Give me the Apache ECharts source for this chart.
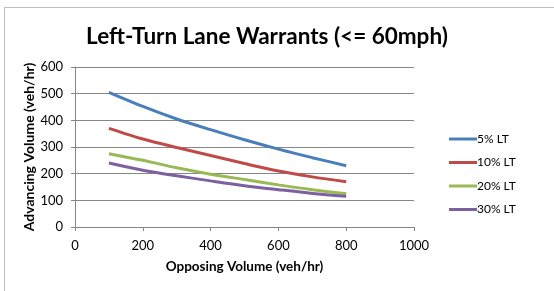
<!DOCTYPE html>
<html lang="en">
<head>
<meta charset="utf-8">
<title>Left-Turn Lane Warrants</title>
<script src="https://cdn.jsdelivr.net/npm/echarts@6/dist/echarts.min.js"></script>
<style>
html,body{margin:0;padding:0;background:#fff;}
#frame{position:absolute;left:4px;top:7px;width:560px;height:300px;border:1px solid #bfbfbf;box-sizing:border-box;}
#main{position:absolute;left:0;top:0;width:554px;height:291px;}
</style>
</head>
<body>
<div id="frame"></div>
<div id="main"></div>
<script>
var opposing = [100, 200, 300, 400, 500, 600, 700, 800];
var lt5 = [505, 452, 405, 365, 327, 292, 260, 230];
var lt10 = [370, 330, 298, 268, 238, 210, 188, 170];
var lt20 = [275, 250, 222, 198, 178, 158, 140, 125];
var lt30 = [240, 213, 192, 173, 155, 140, 126, 115];
var names = ['5% LT', '10% LT', '20% LT', '30% LT'];
var colors = ['#4a7ebb', '#be4b48', '#98b954', '#7d60a0'];

function pairs(ys){
  var out = [];
  for (var i = 0; i < opposing.length; i++) out.push([opposing[i], ys[i]]);
  return out;
}

var font = 'Lato, "Open Sans", sans-serif';
var chart = echarts.init(document.getElementById('main'));
chart.setOption({
  animation: false,
  title: {
    text: 'Left-Turn Lane Warrants (<= 60mph)',
    left: 262, top: 20, textAlign: 'center',
    textStyle: {fontFamily: font, fontSize: 22.5, fontWeight: 'bold', color: '#000'}
  },
  legend: {
    orient: 'vertical', left: 444, top: 128, itemGap: 11.5,
    itemWidth: 28, itemHeight: 3, icon: 'rect',
    data: names,
    textStyle: {fontFamily: font, fontSize: 12, color: '#000', padding: [0, 0, 0, -5]}
  },
  grid: {left: 75, right: 140, top: 67, bottom: 64},
  xAxis: {
    type: 'value', min: 0, max: 1000, interval: 200,
    name: 'Opposing Volume (veh/hr)', nameLocation: 'middle', nameGap: 33,
    nameTextStyle: {fontFamily: font, fontSize: 13.5, fontWeight: 'bold', color: '#000'},
    axisLine: {lineStyle: {color: '#868686'}},
    axisTick: {show: true, length: 4, lineStyle: {color: '#868686'}},
    axisLabel: {fontFamily: font, fontSize: 13, color: '#000', margin: 12,
      formatter: function(v){ return String(v); }},
    splitLine: {show: false}
  },
  yAxis: {
    type: 'value', min: 0, max: 600, interval: 100,
    name: 'Advancing Volume (veh/hr)', nameLocation: 'middle', nameGap: 39,
    nameMoveOverlap: false,
    nameTextStyle: {fontFamily: font, fontSize: 14, fontWeight: 'bold', color: '#000'},
    axisLine: {show: true, lineStyle: {color: '#868686'}},
    axisTick: {show: true, length: 4, lineStyle: {color: '#868686'}},
    axisLabel: {fontFamily: font, fontSize: 13, color: '#000', margin: 12},
    splitLine: {lineStyle: {color: '#868686', width: 1}}
  },
  series: [lt5, lt10, lt20, lt30].map(function(d, i){
    return {
      name: names[i], type: 'line', smooth: 0.3, showSymbol: false,
      data: pairs(d), color: colors[i],
      lineStyle: {width: 3, color: colors[i]}
    };
  })
});
</script>
</body>
</html>
